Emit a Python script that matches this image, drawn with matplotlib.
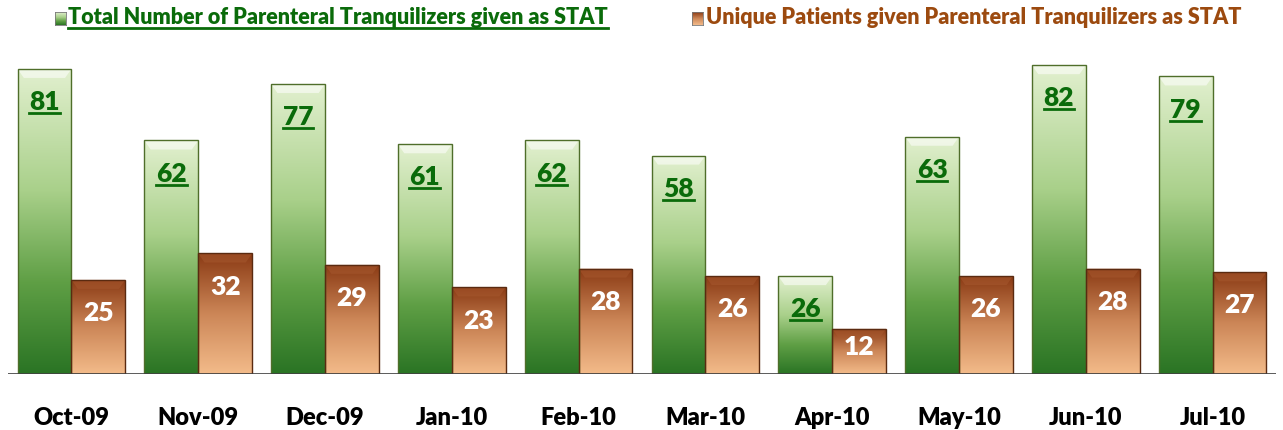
import numpy as np
import matplotlib
matplotlib.use("Agg")
import matplotlib.pyplot as plt
from matplotlib.colors import LinearSegmentedColormap
from matplotlib.patches import Rectangle, Polygon
from matplotlib.lines import Line2D

plt.rcParams["font.family"] = ["Lato", "DejaVu Sans"]

months = ["Oct-09", "Nov-09", "Dec-09", "Jan-10", "Feb-10",
          "Mar-10", "Apr-10", "May-10", "Jun-10", "Jul-10"]
total_stat = [81, 62, 77, 61, 62, 58, 26, 63, 82, 79]
unique_patients = [25, 32, 29, 23, 28, 26, 12, 26, 28, 27]

label_total = "Total Number of Parenteral Tranquilizers given as STAT"
label_unique = "Unique Patients given Parenteral Tranquilizers as STAT"

GREEN_TXT = "#0a6b0a"
BROWN_TXT = "#9c4a0f"

# 颜色渐变: 底部 -> 顶部
green_cmap = LinearSegmentedColormap.from_list(
    "g", [(0, "#2a7424"), (0.3, "#5f9f45"), (0.6, "#a9d08a"), (1, "#e2f0cf")])
brown_cmap = LinearSegmentedColormap.from_list(
    "b", [(0, "#f3bb8a"), (0.5, "#cc8657"), (1, "#8a3a14")])

fig = plt.figure(figsize=(12.83, 4.30), dpi=100)
ax = fig.add_axes([8 / 1283, 56 / 430, 1268 / 1283, 339 / 430])
ax.set_xlim(-0.5, len(months) - 0.5)
ax.set_ylim(0, 90)

width = 0.425
grad = np.linspace(0, 1, 256).reshape(-1, 1)


def draw_bar(x0, h, cmap, edge, bevel_col, bevel_alpha):
    rect = Rectangle((x0, 0), width, h, facecolor="none", edgecolor=edge, lw=1.0, zorder=3)
    ax.add_patch(rect)
    im = ax.imshow(grad, cmap=cmap, origin="lower", aspect="auto",
                   extent=(x0, x0 + width, 0, h), zorder=2)
    im.set_clip_path(rect)
    # 顶部斜面
    dx, dy = 0.05, 2.4
    top = Polygon([(x0, h), (x0 + width, h), (x0 + width - dx, h - dy), (x0 + dx, h - dy)],
                  closed=True, facecolor=bevel_col, edgecolor="none", alpha=bevel_alpha, zorder=2.5)
    ax.add_patch(top)


underline_texts = []
for i, (g, b) in enumerate(zip(total_stat, unique_patients)):
    draw_bar(i - width, g, green_cmap, "#4f6e2a", "#ffffff", 0.55)
    draw_bar(i, b, brown_cmap, "#5a2a10", "#a85a30", 0.5)
    t = ax.text(i - width / 2, g - min(8.8, g * 0.4), str(g), ha="center", va="center",
                fontsize=19, fontweight="heavy", color=GREEN_TXT, zorder=5)
    underline_texts.append(t)
    ax.text(i + width / 2, b - min(8.8, b * 0.4), str(b), ha="center", va="center",
            fontsize=19, fontweight="heavy", color="white", zorder=5)

ax.axhline(0, color="#404040", lw=1.2, zorder=4)
ax.set_xticks(range(len(months)))
ax.set_xticklabels(months, fontsize=17, fontweight="heavy")
ax.tick_params(axis="x", length=0, pad=24)
ax.set_yticks([])
for s in ax.spines.values():
    s.set_visible(False)

# 图例
t1 = fig.text(68 / 1283, 1 - 18 / 430, label_total, ha="left", va="center",
              fontsize=15.5, fontweight="heavy", color=GREEN_TXT)
t2 = fig.text(706 / 1283, 1 - 18 / 430, label_unique, ha="left", va="center",
              fontsize=15.5, fontweight="heavy", color=BROWN_TXT)
underline_texts.append(t1)

for (lx, cmap) in [(55, green_cmap), (692, brown_cmap)]:
    lax = fig.add_axes([lx / 1283, 1 - 25 / 430, 11 / 1283, 13 / 430])
    lax.imshow(grad, cmap=cmap, origin="lower", aspect="auto")
    lax.set_xticks([])
    lax.set_yticks([])
    for s in lax.spines.values():
        s.set_edgecolor("#777777")
        s.set_linewidth(0.6)

# 下划线
fig.canvas.draw()
r = fig.canvas.get_renderer()
for t in underline_texts:
    bb = t.get_window_extent(renderer=r)
    y = bb.y0 + 1
    fig.add_artist(Line2D([bb.x0 / 1283, bb.x1 / 1283], [y / 430, y / 430],
                          color=t.get_color(), lw=2, zorder=6))

fig.savefig("out.png", dpi=100)
